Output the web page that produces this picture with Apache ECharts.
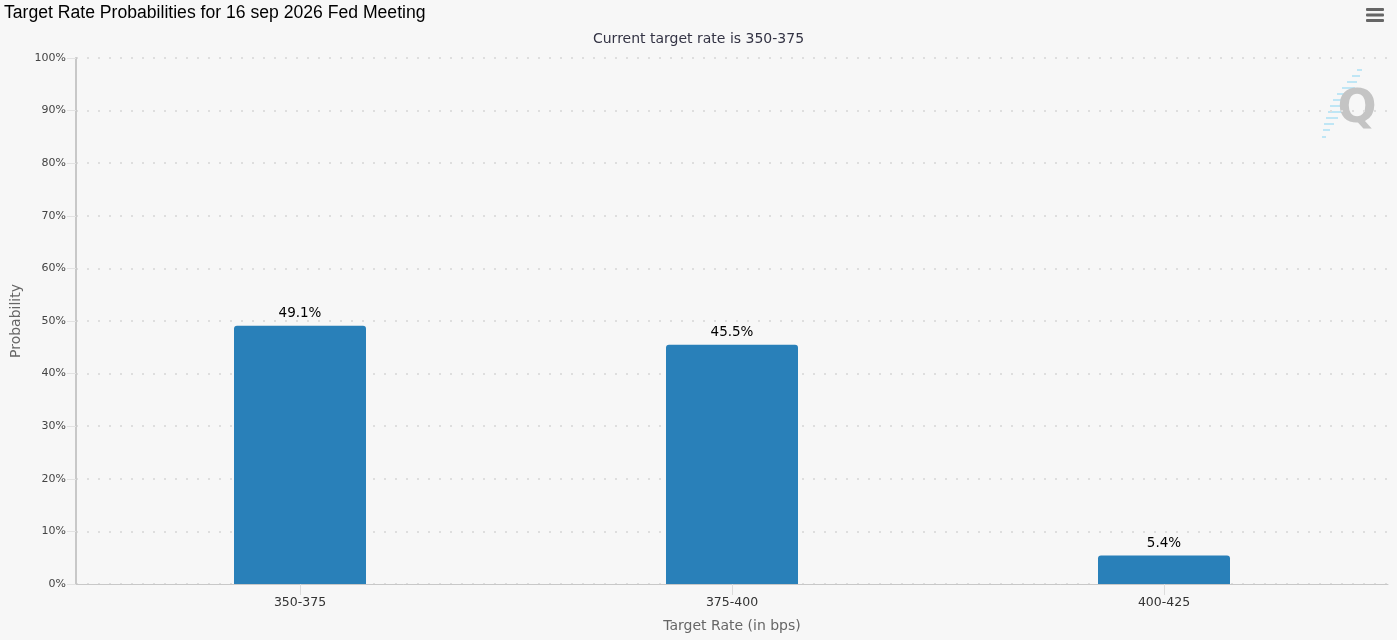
<!DOCTYPE html>
<html lang="en">
<head>
  <meta charset="UTF-8">
  <title>Target Rate Probabilities</title>
  <script src="https://cdn.jsdelivr.net/npm/echarts@6/dist/echarts.min.js"></script>
  <style>
    html, body { margin: 0; padding: 0; background: #f7f7f7; }
    #chart { width: 1397px; height: 640px; }
  </style>
</head>
<body>
<div id="chart"></div>
<script>
  // data
  const rateBuckets = ['350-375', '375-400', '400-425'];
  const probabilities = [49.1, 45.5, 5.4];
  const yTicks = [0, 10, 20, 30, 40, 50, 60, 70, 80, 90, 100];

  const chart = echarts.init(document.getElementById('chart'));
  const font = '"DejaVu Sans", Verdana, sans-serif';
  const idx = rateBuckets.map((_, i) => i);

  // a little padding on both sides of the categories, like the original
  const pad = 8 / 432;

  const option = {
    backgroundColor: '#f7f7f7',
    animation: false,
    title: [{
      text: 'Target Rate Probabilities for 16 sep 2026 Fed Meeting',
      left: 4,
      top: 4,
      padding: 0,
      textStyle: { fontFamily: '"Liberation Sans", Arial, sans-serif', fontSize: 17.6, fontWeight: 'normal', color: '#000' }
    }, {
      text: 'Current target rate is 350-375',
      left: 'center',
      top: 32,
      padding: 0,
      textStyle: { fontFamily: font, fontSize: 14, fontWeight: 'normal', color: '#333344' }
    }],
    grid: { left: 76, right: 9, top: 58, bottom: 56, outerBoundsMode: 'none' },
    xAxis: {
      type: 'value',
      min: -0.5 - pad,
      max: rateBuckets.length - 0.5 + pad,
      name: 'Target Rate (in bps)',
      nameLocation: 'middle',
      nameGap: 35,
      nameTextStyle: { fontFamily: font, fontSize: 14, color: '#666' },
      axisLine: { show: true, lineStyle: { color: '#c8c8c8', width: 1 } },
      axisTick: { show: true, customValues: idx, length: 11, lineStyle: { color: '#dcdcdc' } },
      axisLabel: {
        customValues: idx,
        margin: 12,
        fontFamily: font,
        fontSize: 12.5,
        color: '#333',
        formatter: v => rateBuckets[Math.round(v)]
      },
      splitLine: { show: false }
    },
    yAxis: {
      type: 'value',
      min: 0,
      max: 100,
      interval: 10,
      name: 'Probability',
      nameLocation: 'middle',
      nameGap: 53,
      nameTextStyle: { fontFamily: font, fontSize: 14, color: '#666' },
      axisLine: { show: true, onZero: false, lineStyle: { color: '#c8c8c8', width: 2 } },
      axisTick: { show: true, length: 9, lineStyle: { color: '#e2e2e2' } },
      axisLabel: {
        margin: 10,
        fontFamily: font,
        fontSize: 11,
        color: '#444',
        formatter: v => (yTicks.includes(v) ? v + '%' : '')
      },
      splitLine: { show: true, lineStyle: { color: '#dedede', type: [2, 9], width: 2 } }
    },
    series: [{
      type: 'bar',
      barWidth: 132,
      data: probabilities.map((p, i) => [i, p]),
      itemStyle: { color: '#2980b9', borderRadius: [3, 3, 0, 0] },
      label: {
        show: true,
        position: 'top',
        distance: 5,
        fontFamily: font,
        fontSize: 13.5,
        color: '#000',
        formatter: p => p.value[1].toFixed(1) + '%'
      }
    }],
    graphic: [
      // hamburger menu
      { type: 'rect', shape: { x: 1366, y: 8, width: 18, height: 3, r: 1 }, style: { fill: '#666' } },
      { type: 'rect', shape: { x: 1366, y: 13.5, width: 18, height: 3, r: 1 }, style: { fill: '#666' } },
      { type: 'rect', shape: { x: 1366, y: 19, width: 18, height: 3, r: 1 }, style: { fill: '#666' } },
      // watermark
      {
        type: 'group',
        silent: true,
        children: [
          { type: 'line', shape: { x1: 1357, y1: 70, x2: 1362, y2: 70 }, style: { stroke: '#bfe6f5', lineWidth: 2 } },
          { type: 'line', shape: { x1: 1352, y1: 76, x2: 1360, y2: 76 }, style: { stroke: '#bfe6f5', lineWidth: 2 } },
          { type: 'line', shape: { x1: 1347, y1: 82, x2: 1357, y2: 82 }, style: { stroke: '#bfe6f5', lineWidth: 2 } },
          { type: 'line', shape: { x1: 1342, y1: 88, x2: 1355, y2: 88 }, style: { stroke: '#bfe6f5', lineWidth: 2 } },
          { type: 'line', shape: { x1: 1337, y1: 94, x2: 1352, y2: 94 }, style: { stroke: '#bfe6f5', lineWidth: 2 } },
          { type: 'line', shape: { x1: 1333, y1: 100, x2: 1348, y2: 100 }, style: { stroke: '#bfe6f5', lineWidth: 2 } },
          { type: 'line', shape: { x1: 1330, y1: 106, x2: 1345, y2: 106 }, style: { stroke: '#bfe6f5', lineWidth: 2 } },
          { type: 'line', shape: { x1: 1328, y1: 112, x2: 1342, y2: 112 }, style: { stroke: '#bfe6f5', lineWidth: 2 } },
          { type: 'line', shape: { x1: 1326, y1: 118, x2: 1338, y2: 118 }, style: { stroke: '#bfe6f5', lineWidth: 2 } },
          { type: 'line', shape: { x1: 1324, y1: 124, x2: 1334, y2: 124 }, style: { stroke: '#bfe6f5', lineWidth: 2 } },
          { type: 'line', shape: { x1: 1323, y1: 130, x2: 1330, y2: 130 }, style: { stroke: '#bfe6f5', lineWidth: 2 } },
          { type: 'line', shape: { x1: 1322, y1: 137, x2: 1326, y2: 137 }, style: { stroke: '#bfe6f5', lineWidth: 2 } },
          {
            type: 'text',
            x: 1357,
            y: 110,
            style: {
              text: 'Q',
              fontFamily: '"DejaVu Sans", sans-serif',
              fontWeight: 'bold',
              fontSize: 46,
              fill: '#c4c4c4',
              align: 'center',
              verticalAlign: 'middle'
            }
          }
        ]
      }
    ]
  };
  chart.setOption(option);
</script>
</body>
</html>
